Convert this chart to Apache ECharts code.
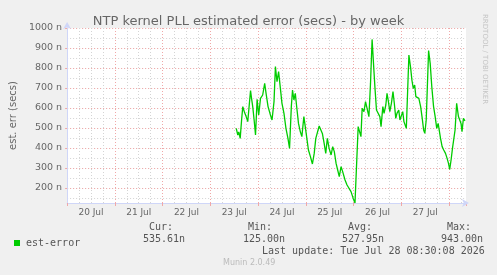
<!DOCTYPE html>
<html>
<head>
<meta charset="utf-8">
<script src="https://cdn.jsdelivr.net/npm/echarts@6/dist/echarts.min.js"></script>
<style>
  html, body { margin: 0; padding: 0; background: #f0f0f0; }
  #chart { width: 497px; height: 275px; }
</style>
</head>
<body>
<div id="chart"></div>
<script>
  // hours since 20 Jul 00:00
  const hours = [
    85.0, 85.8, 86.3, 87.0, 87.7, 88.3, 89.2, 90.0, 90.8, 92.2, 92.7, 93.3, 94.0, 94.7,
    95.5, 96.3, 97.2, 98.3, 99.3, 100.0, 101.0, 102.2, 103.0, 104.0, 104.7, 105.5, 106.3,
    107.2, 108.0, 109.0, 110.0, 111.0, 111.8, 112.7, 113.3, 114.0, 114.7, 115.3, 116.3,
    117.2, 118.0, 119.0, 119.7, 120.5, 121.3, 122.3, 123.3, 124.2, 125.0, 126.7, 127.5,
    128.3, 129.2, 130.0, 130.8, 131.7, 132.7, 133.5, 134.3, 135.2, 136.0, 136.8, 137.7,
    138.5, 139.7, 140.7, 141.7, 142.7, 143.8, 144.7, 145.5, 146.3, 147.0, 147.7, 148.3,
    149.2, 150.0, 150.8, 151.7, 152.5, 153.3, 154.0, 154.7, 155.5, 156.3, 157.2, 157.8,
    158.7, 159.3, 160.2, 160.8, 161.5, 162.2, 163.0, 163.8, 164.5, 165.2, 165.8, 166.7,
    167.3, 168.0, 168.7, 169.3, 170.0, 170.5, 171.2, 171.8, 172.7, 173.3, 174.0, 174.7,
    175.3, 176.0, 176.8, 177.7, 178.5, 179.2, 179.8, 180.5, 181.7, 182.5, 183.3, 184.2,
    185.0, 185.8, 186.5, 187.7, 188.5, 189.3, 190.2, 191.0, 191.7, 192.3, 193.0, 193.7,
    194.3, 195.0, 195.8, 196.7, 197.3, 198.0, 198.5, 199.2, 200.0
  ];
  // est-error in nanoseconds
  const errNs = [
    498, 465, 480, 448, 540, 607, 577, 557, 532, 687, 648, 607, 540, 465,
    643, 565, 648, 665, 723, 673, 607, 565, 540, 632, 807, 732, 782,
    698, 623, 573, 498, 448, 398, 607, 690, 640, 673, 615, 523,
    482, 457, 557, 507, 448, 390, 357, 320, 373, 448, 510, 507,
    473, 423, 373, 448, 398, 365, 407, 382, 323, 290, 257, 307,
    282, 240, 215, 207, 182, 148, 125, 127, 507, 482, 457, 598,
    582, 632, 623, 557, 723, 943, 823, 707, 590, 582, 557, 507,
    607, 573, 615, 673, 632, 582, 623, 682, 620, 548, 573, 590,
    540, 548, 582, 532, 523, 498, 507, 865, 798, 740, 698, 715,
    657, 665, 648, 607, 548, 490, 473, 540, 887, 823, 707, 607,
    557, 498, 523, 448, 407, 390, 373, 348, 323, 293, 340, 398,
    400, 490, 623, 557, 560, 523, 482, 548, 536
  ];
  const dayLabels = ['20 Jul', '21 Jul', '22 Jul', '23 Jul', '24 Jul', '25 Jul', '26 Jul', '27 Jul'];
  const statNames = ['Cur:', 'Min:', 'Avg:', 'Max:'];
  const statValues = ['535.61n', '125.00n', '527.95n', '943.00n'];

  const sans = 'DejaVu Sans';
  const mono = 'DejaVu Sans Mono';
  const fontColor = '#666';
  const axisColor = '#cfd6f8';
  const gridGray = { color: '#d4d4d4', type: [1, 2], width: 1 };
  const gridRed = { color: '#f0a8a8', type: [1, 2], width: 1 };

  const chart = echarts.init(document.getElementById('chart'));

  /** stats columns below the legend */
  const statX = [[149, 143], [248, 243], [348, 342], [447, 441]];
  const statText = [];
  statNames.forEach((name, i) => {
    statText.push({ type: 'text', left: statX[i][0], top: 222, style: { text: name, font: '10px ' + mono, fill: '#555' } });
    statText.push({ type: 'text', left: statX[i][1], top: 234, style: { text: statValues[i], font: '10px ' + mono, fill: '#555' } });
  });

  chart.setOption({
    backgroundColor: '#f0f0f0',
    animation: false,
    title: {
      text: 'NTP kernel PLL estimated error (secs) - by week',
      left: 'center',
      top: 10,
      textStyle: { fontFamily: sans, fontSize: 13, fontWeight: 'normal', color: fontColor }
    },
    legend: {
      left: 9,
      top: 233,
      icon: 'rect',
      itemWidth: 6,
      itemHeight: 6,
      itemGap: 0,
      textStyle: { fontFamily: mono, fontSize: 10, color: '#555', padding: [0, 0, 0, 1] },
      data: ['est-error']
    },
    grid: {
      left: 65,
      right: 31,
      top: 28,
      height: 175,
      show: true,
      backgroundColor: '#fff',
      borderWidth: 0
    },
    xAxis: [
      {
        // minor vertical grid, every 6 hours
        type: 'value', position: 'bottom', min: 0, max: 200.5, interval: 6,
        axisLine: { show: false }, axisTick: { show: false }, axisLabel: { show: false },
        splitLine: { show: true, showMinLine: false, showMaxLine: false, lineStyle: gridGray }
      },
      {
        // major vertical grid at midnight
        type: 'value', position: 'bottom', min: 0, max: 200.5, interval: 24,
        axisLine: { show: false }, axisLabel: { show: false },
        axisTick: { show: true, length: 3, lineStyle: { color: '#f0a8a8' } },
        splitLine: { show: true, showMinLine: false, showMaxLine: false, lineStyle: gridRed }
      },
      {
        // day labels at noon + axis line
        type: 'value', position: 'bottom', min: 0, max: 200.5, interval: 12,
        axisLine: { show: true, symbol: ['none', 'arrow'], symbolSize: [6, 7], symbolOffset: [0, 3], lineStyle: { color: axisColor } },
        axisTick: { show: false },
        splitLine: { show: false },
        axisLabel: {
          margin: 5,
          fontFamily: sans, fontSize: 9, color: fontColor,
          formatter: v => (v % 24 === 12 ? dayLabels[Math.floor(v / 24)] : '')
        }
      }
    ],
    yAxis: [
      {
        // minor horizontal grid, every 50n
        type: 'value', position: 'left', min: 125, max: 1000, splitNumber: 18,
        axisLine: { show: false }, axisTick: { show: false }, axisLabel: { show: false },
        splitLine: { show: true, showMinLine: false, lineStyle: gridGray }
      },
      {
        type: 'value', position: 'left', min: 125, max: 1000, splitNumber: 9,
        name: 'est. err (secs)',
        nameLocation: 'middle',
        nameGap: 47,
        nameTextStyle: { fontFamily: sans, fontSize: 10, color: fontColor },
        axisLine: { show: true, symbol: ['none', 'arrow'], symbolSize: [6, 7], symbolOffset: [0, 6], lineStyle: { color: axisColor } },
        axisTick: { show: true, length: 2, lineStyle: { color: '#f0a8a8' } },
        axisLabel: {
          showMinLabel: false,
          margin: 5,
          fontFamily: sans, fontSize: 9.5, color: fontColor,
          formatter: v => v + ' n'
        },
        splitLine: { show: true, showMinLine: false, lineStyle: gridRed }
      }
    ],
    series: [
      {
        name: 'est-error',
        type: 'line',
        xAxisIndex: 2,
        yAxisIndex: 1,
        showSymbol: false,
        color: '#00cc00',
        lineStyle: { width: 1.3, color: '#00cc00' },
        data: hours.map((h, i) => [h, errNs[i]])
      }
    ],
    graphic: [
      {
        type: 'text', left: 481, top: 14, rotation: -Math.PI / 2,
        style: { text: 'RRDTOOL / TOBI OETIKER', font: '7px ' + sans, fill: '#c4c4c4' }
      },
      ...statText,
      { type: 'text', left: 262, top: 246, style: { text: 'Last update: Tue Jul 28 08:30:08 2026', font: '10px ' + mono, fill: '#555' } },
      { type: 'text', left: 223, top: 259, style: { text: 'Munin 2.0.49', font: '8px ' + sans, fill: '#bbb' } }
    ]
  });
</script>
</body>
</html>
